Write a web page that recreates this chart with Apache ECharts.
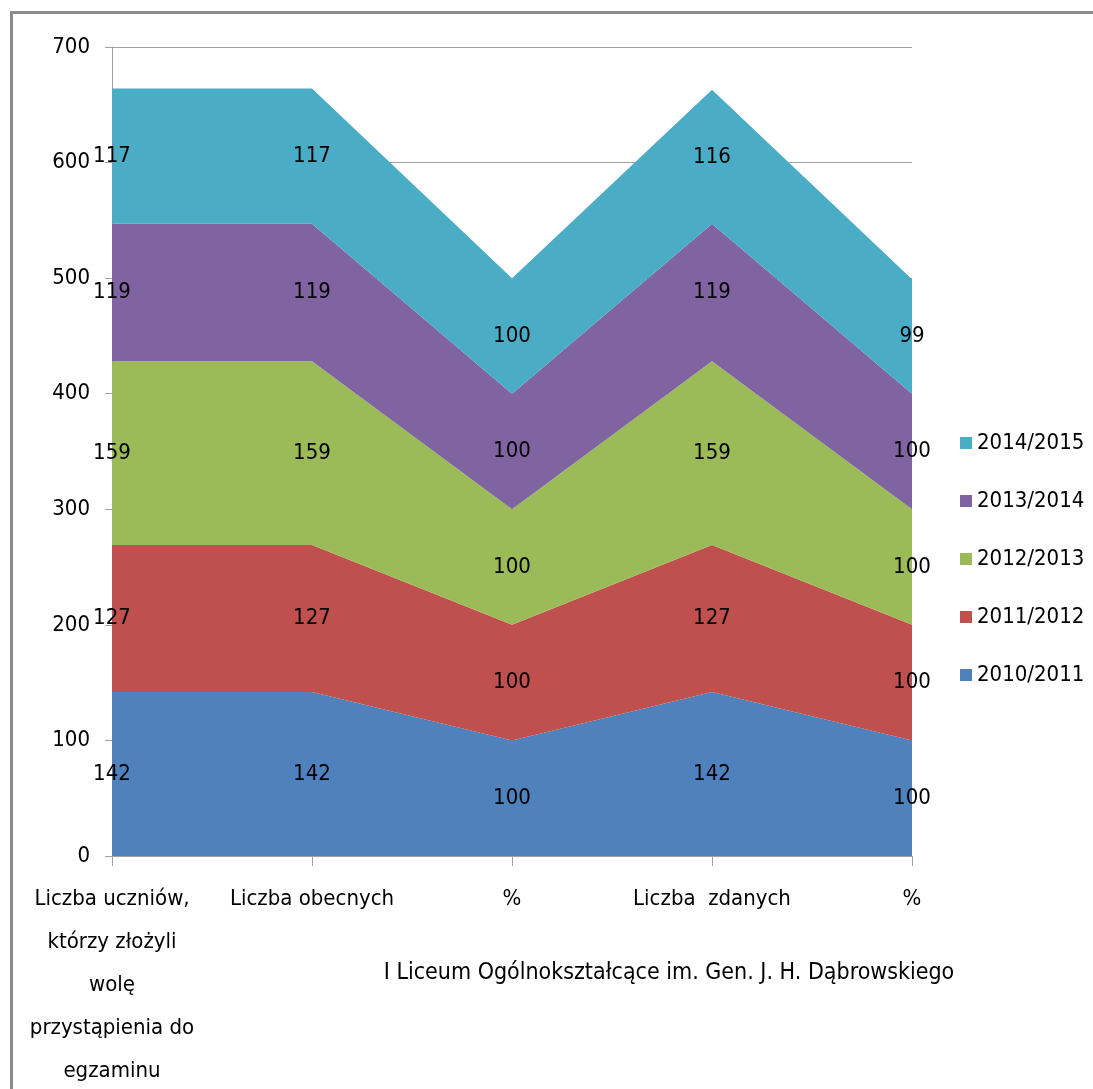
<!DOCTYPE html>
<html>
<head>
<meta charset="utf-8">
<script src="https://cdn.jsdelivr.net/npm/echarts@6/dist/echarts.min.js"></script>
<style>
  html, body { margin: 0; padding: 0; background: #fff; }
  #main { width: 1093px; height: 1089px; }
</style>
</head>
<body>
<div id="main"></div>
<script>
var FONT = "'Liberation Sans Narrow', 'DejaVu Sans Condensed', sans-serif";
var FS = 22;

var categories = [
	'Liczba uczniów,\nktórzy złożyli\nwolę\nprzystąpienia do\negzaminu',
	'Liczba obecnych',
	'%',
	'Liczba  zdanych',
	'%'
];
var seriesNames = ['2010/2011', '2011/2012', '2012/2013', '2013/2014', '2014/2015'];
var colors = ['#4F81BD', '#C0504D', '#9BBB59', '#8064A2', '#4BACC6'];

var v2010 = [142, 142, 100, 142, 100];
var v2011 = [127, 127, 100, 127, 100];
var v2012 = [159, 159, 100, 159, 100];
var v2013 = [119, 119, 100, 119, 100];
var v2014 = [117, 117, 100, 116, 99];
var values = [v2010, v2011, v2012, v2013, v2014];

var yTicks = { min: 0, max: 700, interval: 100 };

var series = [];
// warstwy skumulowane
for (var i = 0; i < values.length; i++) {
	series.push({
		name: seriesNames[i],
		type: 'line',
		stack: 'total',
		data: values[i],
		symbol: 'none',
		lineStyle: { width: 0 },
		areaStyle: { color: colors[i], opacity: 1 },
		itemStyle: { color: colors[i] },
		silent: true,
		z: 2
	});
}
// etykiety w środku każdej warstwy
var base = [0, 0, 0, 0, 0];
for (var i = 0; i < values.length; i++) {
	var mid = [];
	for (var j = 0; j < values[i].length; j++) {
		mid.push({ value: base[j] + values[i][j] / 2, raw: values[i][j] });
		base[j] += values[i][j];
	}
	series.push({
		name: 'lbl' + i,
		type: 'line',
		data: mid,
		symbol: 'circle',
		symbolSize: 0,
		showSymbol: true,
		lineStyle: { opacity: 0 },
		silent: true,
		z: 5,
		label: {
			show: true,
			position: 'inside',
			color: '#000',
			fontFamily: FONT,
			fontSize: FS,
			formatter: function (p) { return p.data.raw; }
		}
	});
}

var myChart = echarts.init(document.getElementById('main'));
var option = {
	animation: false,
	backgroundColor: '#fff',
	graphic: [{
		type: 'rect',
		left: 9,
		top: 10,
		shape: { width: 1200, height: 1200 },
		style: { fill: 'none', stroke: '#8c8c8c', lineWidth: 3 },
		silent: true
	}],
	title: {
		text: 'I Liceum Ogólnokształcące im. Gen. J. H. Dąbrowskiego',
		left: 664,
		top: 957,
		textAlign: 'center',
		textStyle: { fontFamily: FONT, fontSize: 23, fontWeight: 'normal', color: '#000' }
	},
	legend: {
		orient: 'vertical',
		left: 955,
		top: 423,
		icon: 'rect',
		itemWidth: 12,
		itemHeight: 12,
		itemGap: 28,
		data: seriesNames.slice().reverse(),
		textStyle: { fontFamily: FONT, fontSize: FS, color: '#000', lineHeight: 30 }
	},
	grid: {
		left: 112,
		right: 181,
		top: 47,
		bottom: 233,
		containLabel: false,
		outerBoundsMode: 'none'
	},
	xAxis: {
		type: 'category',
		boundaryGap: false,
		data: categories,
		axisLine: { lineStyle: { color: '#a0a0a0', width: 1 } },
		axisTick: { show: true, length: 10, interval: 0, lineStyle: { color: '#a0a0a0' } },
		axisLabel: {
			interval: 0,
			margin: 22,
			color: '#000',
			fontFamily: FONT,
			fontSize: FS,
			lineHeight: 43,
			align: 'center'
		},
		splitLine: { show: false }
	},
	yAxis: {
		type: 'value',
		min: yTicks.min,
		max: yTicks.max,
		interval: yTicks.interval,
		axisLine: { show: true, lineStyle: { color: '#a0a0a0', width: 1 } },
		axisTick: { show: true, length: 7, lineStyle: { color: '#a0a0a0' } },
		axisLabel: { margin: 22, color: '#000', fontFamily: FONT, fontSize: FS },
		splitLine: { show: true, lineStyle: { color: '#a0a0a0', width: 1 } }
	},
	series: series
};
myChart.setOption(option);
</script>
</body>
</html>
